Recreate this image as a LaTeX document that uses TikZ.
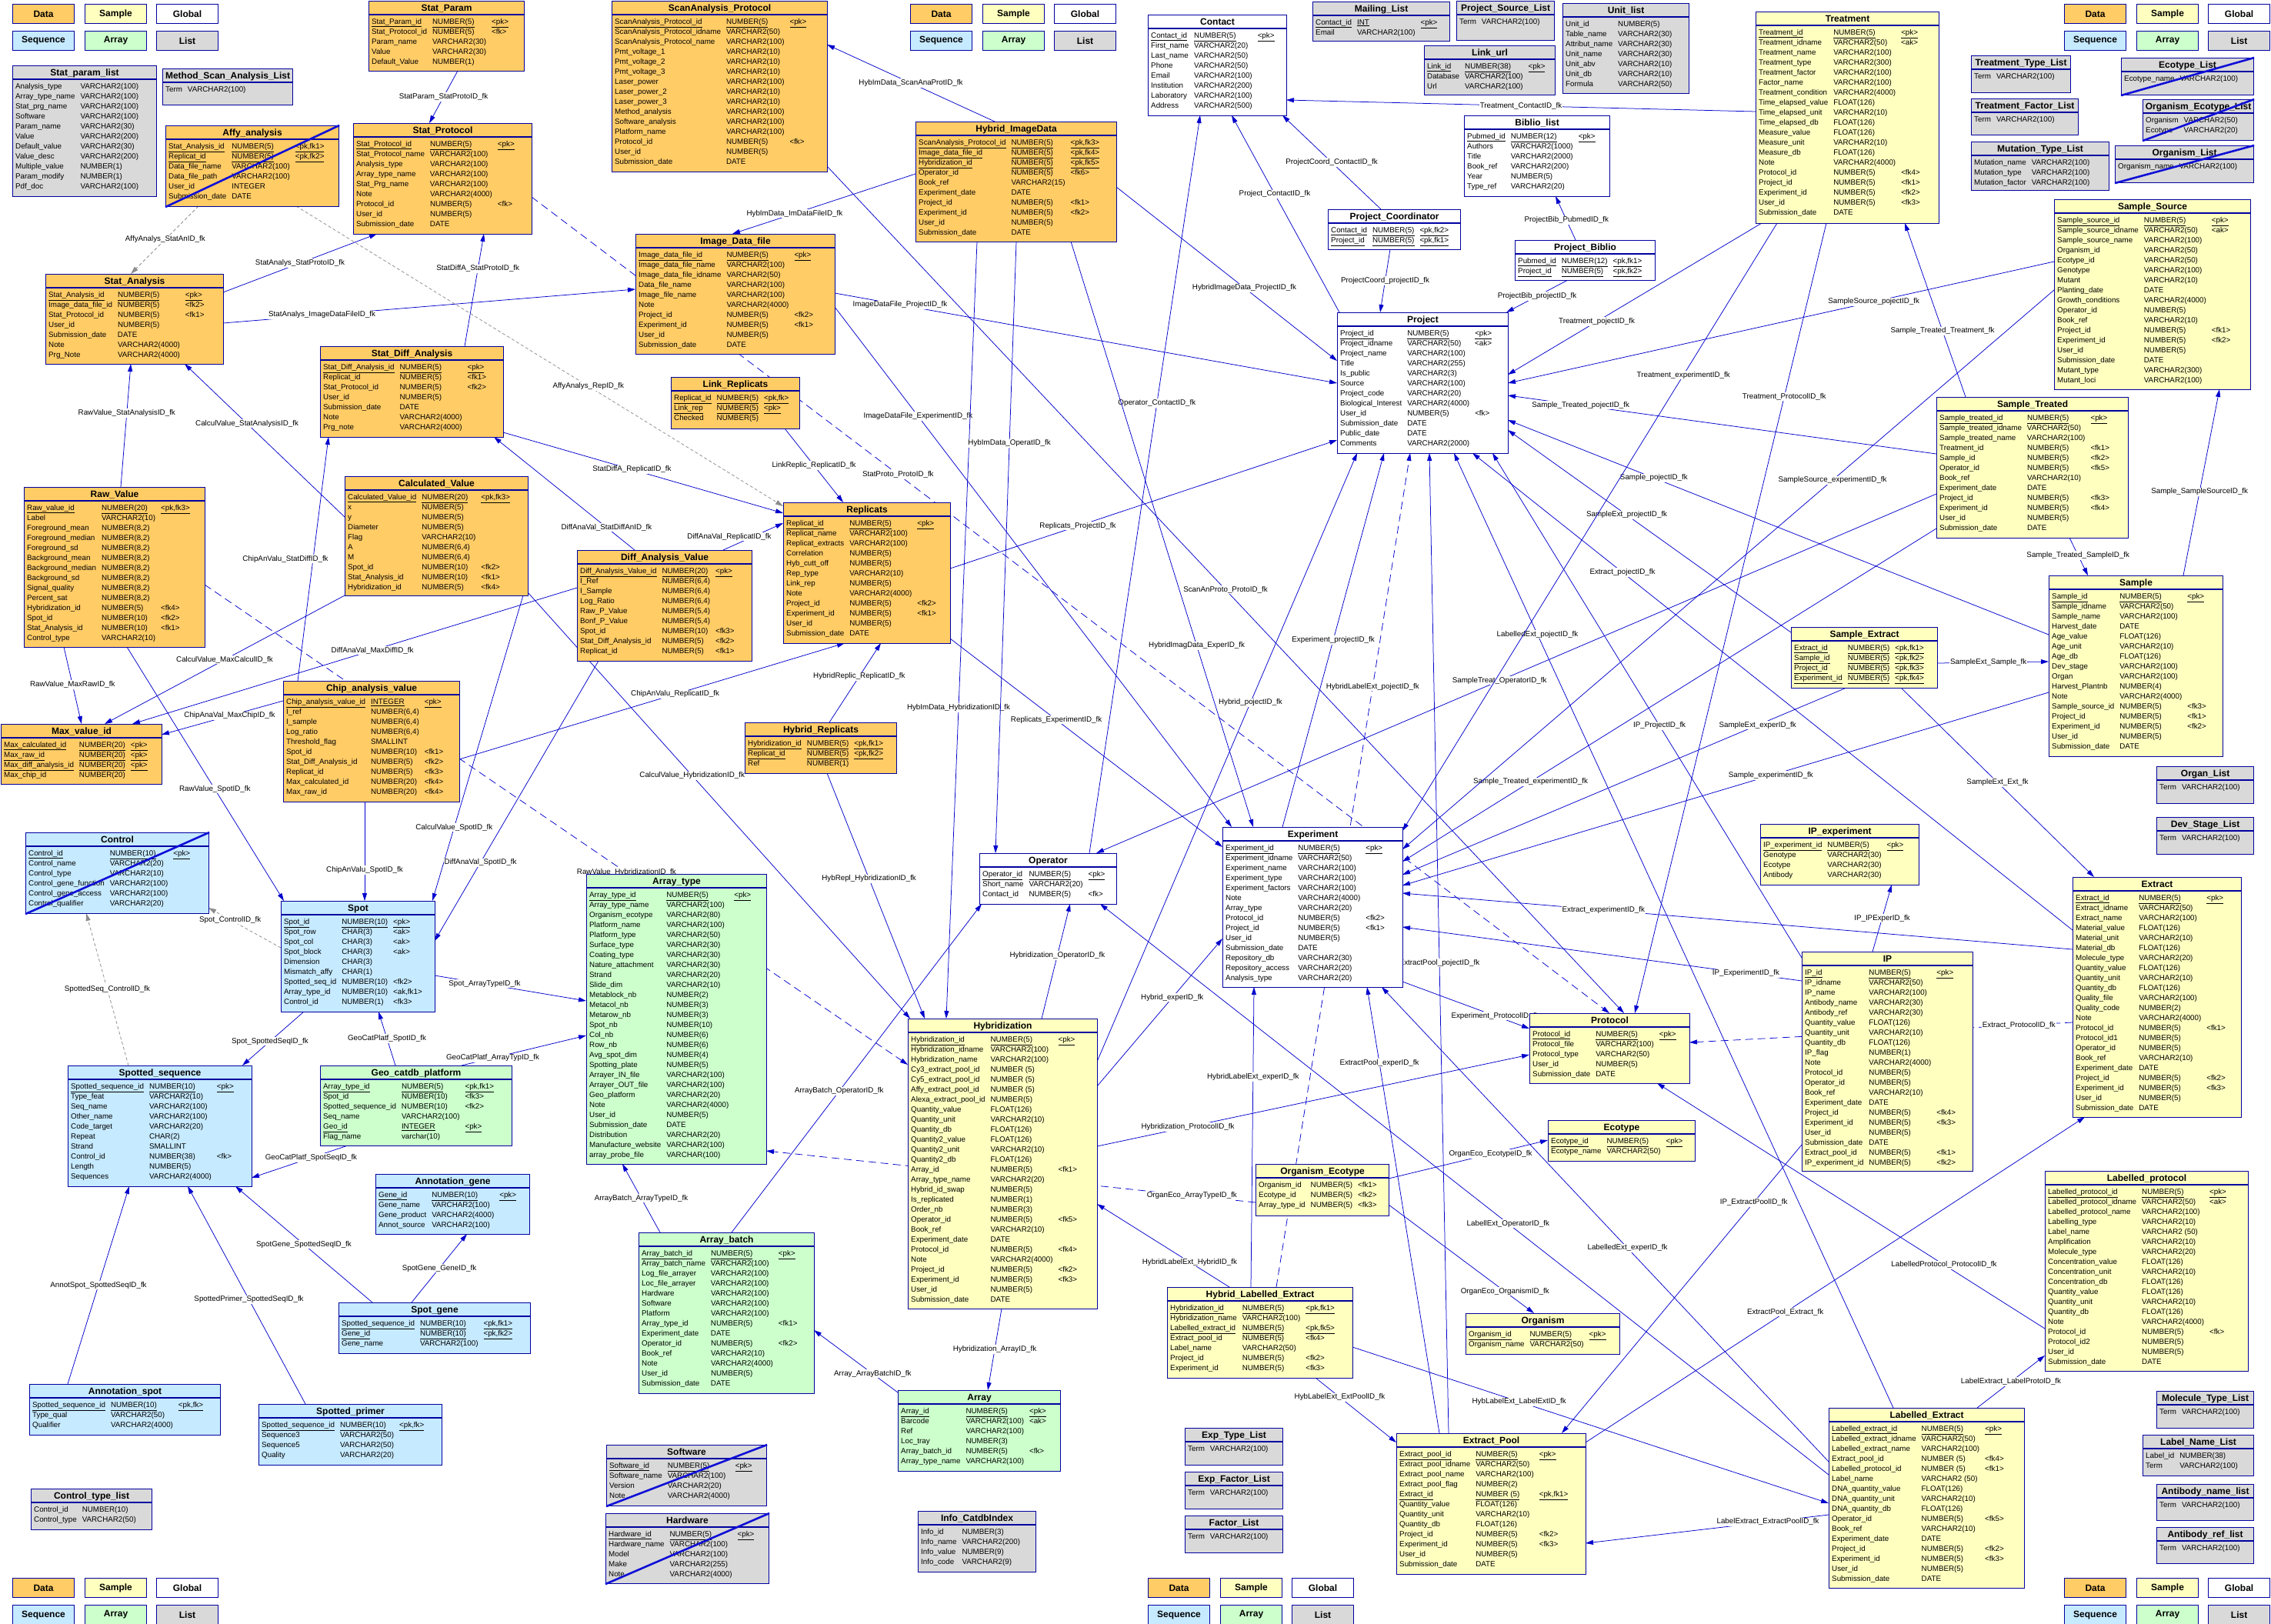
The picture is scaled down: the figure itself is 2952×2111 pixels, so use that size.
\documentclass[tikz,border=0pt]{standalone}
\usepackage{fontspec}
\setmainfont{Liberation Sans}
\usetikzlibrary{arrows.meta,backgrounds}
\pgfdeclarelayer{paper}
\pgfdeclarelayer{links}
\pgfsetlayers{paper,links,main}

\definecolor{datac}{RGB}{255,204,102}
\definecolor{samplec}{RGB}{255,255,192}
\definecolor{seqc}{RGB}{198,234,255}
\definecolor{arrayc}{RGB}{204,255,204}
\definecolor{listc}{RGB}{217,217,217}
\definecolor{bordc}{RGB}{0,0,160}
\definecolor{fkc}{RGB}{0,0,205}
\definecolor{crossc}{RGB}{15,15,215}

% one row of a primary key, all underlined
\newcommand\pk[3]{\underline{#1}&\underline{#2}&\underline{#3}\\}
% name, x, y, width, height, colour, title, rows
\newcommand\dbtable[8]{%
  \node[tblbox,fill=#6,minimum width=#4pt,minimum height=#5pt] (#1) at (#2,#3) {};
  \node[tbltitle] at ([yshift=-13.5pt]#1.north) {#7};
  \draw[tblborder] ([shift={(0,18)}]#1.north west) -- ([shift={(0,18)}]#1.north east);
  \node[tblrows] at ([shift={(4,21)}]#1.north west) {\begin{tabular}{@{}l@{\hspace{7pt}}l@{\hspace{7pt}}l@{}}#8\end{tabular}};
}
% [style], child, dx, dy, parent, dx, dy, pos, label
\newcommand\fkline[9][]{%
  \draw[fk,#1] ([shift={(#3,#4)}]#2.north west) -- node[fklabel,pos=#8]{#9} ([shift={(#6,#7)}]#5.north west);
}

\begin{document}
\catcode`\_=12
\begin{tikzpicture}[x=1pt,y=-1pt]
  \tikzstyle{tblbox}=[rectangle,draw=bordc,line width=1.1pt,anchor=north west,inner sep=0pt]
  \tikzstyle{tbltitle}=[anchor=base,inner sep=0pt,font=\fontsize{12}{14}\selectfont\bfseries]
  \tikzstyle{tblborder}=[draw=bordc,line width=1.1pt]
  \tikzstyle{tblrows}=[anchor=north west,inner sep=0pt,font=\fontsize{9.8}{13}\selectfont]
  \tikzstyle{legbox}=[rectangle,draw=bordc,line width=1.1pt,anchor=north west,minimum width=80pt,minimum height=25pt,inner sep=0pt,font=\fontsize{12}{14}\selectfont\bfseries]
  \tikzstyle{crossout}=[draw=crossc,line width=2.6pt]
  \tikzstyle{fk}=[draw=fkc,line width=0.75pt,-{Triangle[length=10pt,width=6pt]}]
  \tikzstyle{optional}=[dash pattern=on 10pt off 6pt]
  \tikzstyle{weak}=[draw=black!45,dash pattern=on 4pt off 3pt]
  \tikzstyle{fklabel}=[fill=white,inner sep=1pt,text=black,font=\fontsize{9.8}{11}\selectfont]

  \begin{pgfonlayer}{paper}
    \fill[white] (0,0) rectangle (2952,2111);
  \end{pgfonlayer}
  \useasboundingbox (0,0) rectangle (2952,2111);

  % legends
  \foreach \lx/\ly/\lg in {16/5/a,1183/5/b,2683/5/c,16/2051/d,1492/2051/e,2683/2051/f}{
    \node[legbox,fill=datac] (leg\lg1) at (\lx,\ly) {Data};
    \node[legbox,fill=samplec] (leg\lg2) at (\lx+94,\ly) {Sample};
    \node[legbox,fill=white] (leg\lg3) at (\lx+187,\ly) {Global};
    \node[legbox,fill=seqc] (leg\lg4) at (\lx,\ly+35) {Sequence};
    \node[legbox,fill=arrayc] (leg\lg5) at (\lx+94,\ly+35) {Array};
    \node[legbox,fill=listc] (leg\lg6) at (\lx+187,\ly+35) {List};
  }

  % ---------------- data tables
  \dbtable{statparamlist}{16}{85}{187}{170}{listc}{Stat_param_list}{%
    Analysis_type&VARCHAR2(100)&\\ Array_type_name&VARCHAR2(100)&\\ Stat_prg_name&VARCHAR2(100)&\\
    Software&VARCHAR2(100)&\\ Param_name&VARCHAR2(30)&\\ Value&VARCHAR2(200)&\\
    Default_value&VARCHAR2(30)&\\ Value_desc&VARCHAR2(200)&\\ Multiple_value&NUMBER(1)&\\
    Param_modify&NUMBER(1)&\\ Pdf_doc&VARCHAR2(100)&\\}
  \dbtable{methodscan}{211}{89}{169}{47}{listc}{Method_Scan_Analysis_List}{Term&VARCHAR2(100)&\\}
  \dbtable{statparam}{479}{1}{202}{91}{datac}{Stat_Param}{%
    \pk{Stat_Param_id}{NUMBER(5)}{<pk>}
    Stat_Protocol_id&NUMBER(5)&<fk>\\ Param_name&VARCHAR2(30)&\\ Value&VARCHAR2(30)&\\
    Default_Value&NUMBER(1)&\\}
  \dbtable{affy}{215}{163}{225}{105}{datac}{Affy_analysis}{%
    \pk{Stat_Analysis_id}{NUMBER(5)}{<pk,fk1>}
    \pk{Replicat_id}{NUMBER(5)}{<pk,fk2>}
    Data_file_name&VARCHAR2(100)&\\ Data_file_path&VARCHAR2(100)&\\ User_id&INTEGER&\\
    Submission_date&DATE&\\}
  \dbtable{statprotocol}{459}{160}{232}{144}{datac}{Stat_Protocol}{%
    \pk{Stat_Protocol_id}{NUMBER(5)}{<pk>}
    Stat_Protocol_name&VARCHAR2(100)&\\ Analysis_type&VARCHAR2(100)&\\ Array_type_name&VARCHAR2(100)&\\
    Stat_Prg_name&VARCHAR2(100)&\\ Note&VARCHAR2(4000)&\\ Protocol_id&NUMBER(5)&<fk>\\
    User_id&NUMBER(5)&\\ Submission_date&DATE&\\}
  \dbtable{statanalysis}{59}{356}{231}{117}{datac}{Stat_Analysis}{%
    \pk{Stat_Analysis_id}{NUMBER(5)}{<pk>}
    Image_data_file_id&NUMBER(5)&<fk2>\\ Stat_Protocol_id&NUMBER(5)&<fk1>\\ User_id&NUMBER(5)&\\
    Submission_date&DATE&\\ Note&VARCHAR2(4000)&\\ Prg_Note&VARCHAR2(4000)&\\}
  \dbtable{statdiff}{416}{450}{238}{118}{datac}{Stat_Diff_Analysis}{%
    \pk{Stat_Diff_Analysis_id}{NUMBER(5)}{<pk>}
    Replicat_id&NUMBER(5)&<fk1>\\ Stat_Protocol_id&NUMBER(5)&<fk2>\\ User_id&NUMBER(5)&\\
    Submission_date&DATE&\\ Note&VARCHAR2(4000)&\\ Prg_note&VARCHAR2(4000)&\\}
  \dbtable{calcvalue}{448}{619}{238}{155}{datac}{Calculated_Value}{%
    \pk{Calculated_Value_id}{NUMBER(20)}{<pk,fk3>}
    x&NUMBER(5)&\\ y&NUMBER(5)&\\ Diameter&NUMBER(5)&\\ Flag&VARCHAR2(10)&\\ A&NUMBER(6,4)&\\
    M&NUMBER(6,4)&\\ Spot_id&NUMBER(10)&<fk2>\\ Stat_Analysis_id&NUMBER(10)&<fk1>\\
    Hybridization_id&NUMBER(5)&<fk4>\\}
  \dbtable{rawvalue}{31}{633}{235}{208}{datac}{Raw_Value}{%
    \pk{Raw_value_id}{NUMBER(20)}{<pk,fk3>}
    Label&VARCHAR2(10)&\\ Foreground_mean&NUMBER(8,2)&\\ Foreground_median&NUMBER(8,2)&\\
    Foreground_sd&NUMBER(8,2)&\\ Background_mean&NUMBER(8,2)&\\ Background_median&NUMBER(8,2)&\\
    Background_sd&NUMBER(8,2)&\\ Signal_quality&NUMBER(8,2)&\\ Percent_sat&NUMBER(8,2)&\\
    Hybridization_id&NUMBER(5)&<fk4>\\ Spot_id&NUMBER(10)&<fk2>\\ Stat_Analysis_id&NUMBER(10)&<fk1>\\
    Control_type&VARCHAR2(10)&\\}
  \dbtable{scanprot}{795}{1}{280}{222}{datac}{ScanAnalysis_Protocol}{%
    \pk{ScanAnalysis_Protocol_id}{NUMBER(5)}{<pk>}
    ScanAnalysis_Protocol_idname&VARCHAR2(50)&\\ ScanAnalysis_Protocol_name&VARCHAR2(100)&\\
    Pmt_voltage_1&VARCHAR2(10)&\\ Pmt_voltage_2&VARCHAR2(10)&\\ Pmt_voltage_3&VARCHAR2(10)&\\
    Laser_power&VARCHAR2(100)&\\ Laser_power_2&VARCHAR2(10)&\\ Laser_power_3&VARCHAR2(10)&\\
    Method_analysis&VARCHAR2(100)&\\ Software_analysis&VARCHAR2(100)&\\ Platform_name&VARCHAR2(100)&\\
    Protocol_id&NUMBER(5)&<fk>\\ User_id&NUMBER(5)&\\ Submission_date&DATE&\\}
  \dbtable{hybimage}{1190}{158}{261}{156}{datac}{Hybrid_ImageData}{%
    \pk{ScanAnalysis_Protocol_id}{NUMBER(5)}{<pk,fk3>}
    \pk{Image_data_file_id}{NUMBER(5)}{<pk,fk4>}
    \pk{Hybridization_id}{NUMBER(5)}{<pk,fk5>}
    Operator_id&NUMBER(5)&<fk6>\\ Book_ref&VARCHAR2(15)&\\ Experiment_date&DATE&\\
    Project_id&NUMBER(5)&<fk1>\\ Experiment_id&NUMBER(5)&<fk2>\\ User_id&NUMBER(5)&\\
    Submission_date&DATE&\\}
  \dbtable{imagefile}{826}{304}{259}{156}{datac}{Image_Data_file}{%
    \pk{Image_data_file_id}{NUMBER(5)}{<pk>}
    Image_data_file_name&VARCHAR2(100)&\\ Image_data_file_idname&VARCHAR2(50)&\\
    Data_file_name&VARCHAR2(100)&\\ Image_file_name&VARCHAR2(100)&\\ Note&VARCHAR2(4000)&\\
    Project_id&NUMBER(5)&<fk2>\\ Experiment_id&NUMBER(5)&<fk1>\\ User_id&NUMBER(5)&\\
    Submission_date&DATE&\\}
  \dbtable{linkrep}{872}{490}{167}{67}{datac}{Link_Replicats}{%
    \pk{Replicat_id}{NUMBER(5)}{<pk,fk>}
    \pk{Link_rep}{NUMBER(5)}{<pk>}
    Checked&NUMBER(5)&\\}
  \dbtable{replicats}{1018}{653}{217}{183}{datac}{Replicats}{%
    \pk{Replicat_id}{NUMBER(5)}{<pk>}
    Replicat_name&VARCHAR2(100)&\\ Replicat_extracts&VARCHAR2(100)&\\ Correlation&NUMBER(5)&\\
    Hyb_cutt_off&NUMBER(5)&\\ Rep_type&VARCHAR2(10)&\\ Link_rep&NUMBER(5)&\\ Note&VARCHAR2(4000)&\\
    Project_id&NUMBER(5)&<fk2>\\ Experiment_id&NUMBER(5)&<fk1>\\ User_id&NUMBER(5)&\\
    Submission_date&DATE&\\}
  \dbtable{maxvalue}{1}{941}{209}{78}{datac}{Max_value_id}{%
    \pk{Max_calculated_id}{NUMBER(20)}{<pk>}
    \pk{Max_raw_id}{NUMBER(20)}{<pk>}
    \pk{Max_diff_analysis_id}{NUMBER(20)}{<pk>}
    Max_chip_id&NUMBER(20)&\\}
  \dbtable{chipvalue}{368}{885}{229}{157}{datac}{Chip_analysis_value}{%
    \pk{Chip_analysis_value_id}{INTEGER}{<pk>}
    I_ref&NUMBER(6,4)&\\ I_sample&NUMBER(6,4)&\\ Log_ratio&NUMBER(6,4)&\\ Threshold_flag&SMALLINT&\\
    Spot_id&NUMBER(10)&<fk1>\\ Stat_Diff_Analysis_id&NUMBER(5)&<fk2>\\ Replicat_id&NUMBER(5)&<fk3>\\
    Max_calculated_id&NUMBER(20)&<fk4>\\ Max_raw_id&NUMBER(20)&<fk4>\\}
  \dbtable{diffvalue}{750}{715}{227}{144}{datac}{Diff_Analysis_Value}{%
    \pk{Diff_Analysis_Value_id}{NUMBER(20)}{<pk>}
    I_Ref&NUMBER(6,4)&\\ I_Sample&NUMBER(6,4)&\\ Log_Ratio&NUMBER(6,4)&\\ Raw_P_Value&NUMBER(5,4)&\\
    Bonf_P_Value&NUMBER(5,4)&\\ Spot_id&NUMBER(10)&<fk3>\\ Stat_Diff_Analysis_id&NUMBER(5)&<fk2>\\
    Replicat_id&NUMBER(5)&<fk1>\\}
  \dbtable{hybrep}{968}{939}{197}{66}{datac}{Hybrid_Replicats}{%
    \pk{Hybridization_id}{NUMBER(5)}{<pk,fk1>}
    \pk{Replicat_id}{NUMBER(5)}{<pk,fk2>}
    Ref&NUMBER(1)&\\}

  % ---------------- global tables
  \dbtable{contact}{1492}{19}{180}{131}{white}{Contact}{%
    \pk{Contact_id}{NUMBER(5)}{<pk>}
    First_name&VARCHAR2(20)&\\ Last_name&VARCHAR2(50)&\\ Phone&VARCHAR2(50)&\\ Email&VARCHAR2(100)&\\
    Institution&VARCHAR2(200)&\\ Laboratory&VARCHAR2(100)&\\ Address&VARCHAR2(500)&\\}
  \dbtable{mailing}{1706}{2}{178}{51}{listc}{Mailing_List}{%
    \pk{Contact_id}{INT}{<pk>}
    Email&VARCHAR2(100)&\\}
  \dbtable{projsource}{1893}{1}{127}{51}{listc}{Project_Source_List}{Term&VARCHAR2(100)&\\}
  \dbtable{unitlist}{2031}{4}{164}{117}{listc}{Unit_list}{%
    Unit_id&NUMBER(5)&\\ Table_name&VARCHAR2(30)&\\ Attribut_name&VARCHAR2(30)&\\ Unit_name&VARCHAR2(30)&\\
    Unit_abv&VARCHAR2(10)&\\ Unit_db&VARCHAR2(10)&\\ Formula&VARCHAR2(50)&\\}
  \dbtable{linkurl}{1851}{59}{170}{64}{listc}{Link_url}{%
    \pk{Link_id}{NUMBER(38)}{<pk>}
    Database&VARCHAR2(100)&\\ Url&VARCHAR2(100)&\\}
  \dbtable{biblio}{1903}{150}{189}{105}{white}{Biblio_list}{%
    \pk{Pubmed_id}{NUMBER(12)}{<pk>}
    Authors&VARCHAR2(1000)&\\ Title&VARCHAR2(2000)&\\ Book_ref&VARCHAR2(200)&\\ Year&NUMBER(5)&\\
    Type_ref&VARCHAR2(20)&\\}
  \dbtable{projcoord}{1726}{272}{172}{52}{white}{Project_Coordinator}{%
    \pk{Contact_id}{NUMBER(5)}{<pk,fk2>}
    \pk{Project_id}{NUMBER(5)}{<pk,fk1>}}
  \dbtable{projbiblio}{1969}{312}{182}{52}{white}{Project_Biblio}{%
    \pk{Pubmed_id}{NUMBER(12)}{<pk,fk1>}
    \pk{Project_id}{NUMBER(5)}{<pk,fk2>}}
  \dbtable{project}{1738}{406}{222}{183}{white}{Project}{%
    \pk{Project_id}{NUMBER(5)}{<pk>}
    Project_idname&VARCHAR2(50)&<ak>\\ Project_name&VARCHAR2(100)&\\ Title&VARCHAR2(255)&\\
    Is_public&VARCHAR2(3)&\\ Source&VARCHAR2(100)&\\ Project_code&VARCHAR2(20)&\\
    Biological_Interest&VARCHAR2(4000)&\\ User_id&NUMBER(5)&<fk>\\ Submission_date&DATE&\\
    Public_date&DATE&\\ Comments&VARCHAR2(2000)&\\}
  \dbtable{operator}{1273}{1109}{178}{66}{white}{Operator}{%
    \pk{Operator_id}{NUMBER(5)}{<pk>}
    Short_name&VARCHAR2(20)&\\ Contact_id&NUMBER(5)&<fk>\\}
  \dbtable{experiment}{1589}{1075}{234}{208}{white}{Experiment}{%
    \pk{Experiment_id}{NUMBER(5)}{<pk>}
    Experiment_idname&VARCHAR2(50)&\\ Experiment_name&VARCHAR2(100)&\\ Experiment_type&VARCHAR2(100)&\\
    Experiment_factors&VARCHAR2(100)&\\ Note&VARCHAR2(4000)&\\ Array_type&VARCHAR2(20)&\\
    Protocol_id&NUMBER(5)&<fk2>\\ Project_id&NUMBER(5)&<fk1>\\ User_id&NUMBER(5)&\\
    Submission_date&DATE&\\ Repository_db&VARCHAR2(30)&\\ Repository_access&VARCHAR2(20)&\\
    Analysis_type&VARCHAR2(20)&\\}

  % ---------------- sample tables
  \dbtable{treatment}{2282}{15}{238}{275}{samplec}{Treatment}{%
    \pk{Treatment_id}{NUMBER(5)}{<pk>}
    Treatment_idname&VARCHAR2(50)&<ak>\\ Treatment_name&VARCHAR2(100)&\\ Treatment_type&VARCHAR2(300)&\\
    Treatment_factor&VARCHAR2(100)&\\ Factor_name&VARCHAR2(100)&\\ Treatment_condition&VARCHAR2(4000)&\\
    Time_elapsed_value&FLOAT(126)&\\ Time_elapsed_unit&VARCHAR2(10)&\\ Time_elapsed_db&FLOAT(126)&\\
    Measure_value&FLOAT(126)&\\ Measure_unit&VARCHAR2(10)&\\ Measure_db&FLOAT(126)&\\
    Note&VARCHAR2(4000)&\\ Protocol_id&NUMBER(5)&<fk4>\\ Project_id&NUMBER(5)&<fk1>\\
    Experiment_id&NUMBER(5)&<fk2>\\ User_id&NUMBER(5)&<fk3>\\ Submission_date&DATE&\\}
  \dbtable{treattype}{2562}{72}{129}{48}{listc}{Treatment_Type_List}{Term&VARCHAR2(100)&\\}
  \dbtable{treatfactor}{2562}{128}{139}{47}{listc}{Treatment_Factor_List}{Term&VARCHAR2(100)&\\}
  \dbtable{mutation}{2562}{184}{179}{63}{listc}{Mutation_Type_List}{%
    Mutation_name&VARCHAR2(100)&\\ Mutation_type&VARCHAR2(100)&\\ Mutation_factor&VARCHAR2(100)&\\}
  \dbtable{ecotypelist}{2757}{75}{172}{48}{listc}{Ecotype_List}{Ecotype_name&VARCHAR2(100)&\\}
  \dbtable{orgecolist}{2785}{129}{144}{53}{listc}{Organism_Ecotype_List}{%
    Organism&VARCHAR2(50)&\\ Ecotype&VARCHAR2(20)&\\}
  \dbtable{organismlist}{2749}{189}{180}{48}{listc}{Organism_List}{Organism_name&VARCHAR2(100)&\\}
  \dbtable{samplesource}{2670}{259}{255}{247}{samplec}{Sample_Source}{%
    \pk{Sample_source_id}{NUMBER(5)}{<pk>}
    Sample_source_idname&VARCHAR2(50)&<ak>\\ Sample_source_name&VARCHAR2(100)&\\
    Organism_id&VARCHAR2(50)&\\ Ecotype_id&VARCHAR2(50)&\\ Genotype&VARCHAR2(100)&\\
    Mutant&VARCHAR2(10)&\\ Planting_date&DATE&\\ Growth_conditions&VARCHAR2(4000)&\\
    Operator_id&NUMBER(5)&\\ Book_ref&VARCHAR2(10)&\\ Project_id&NUMBER(5)&<fk1>\\
    Experiment_id&NUMBER(5)&<fk2>\\ User_id&NUMBER(5)&\\ Submission_date&DATE&\\
    Mutant_type&VARCHAR2(300)&\\ Mutant_loci&VARCHAR2(100)&\\}
  \dbtable{sampletreated}{2517}{516}{249}{183}{samplec}{Sample_Treated}{%
    \pk{Sample_treated_id}{NUMBER(5)}{<pk>}
    Sample_treated_idname&VARCHAR2(50)&\\ Sample_treated_name&VARCHAR2(100)&\\
    Treatment_id&NUMBER(5)&<fk1>\\ Sample_id&NUMBER(5)&<fk2>\\ Operator_id&NUMBER(5)&<fk5>\\
    Book_ref&VARCHAR2(10)&\\ Experiment_date&DATE&\\ Project_id&NUMBER(5)&<fk3>\\
    Experiment_id&NUMBER(5)&<fk4>\\ User_id&NUMBER(5)&\\ Submission_date&DATE&\\}
  \dbtable{sample}{2663}{748}{226}{235}{samplec}{Sample}{%
    \pk{Sample_id}{NUMBER(5)}{<pk>}
    Sample_idname&VARCHAR2(50)&\\ Sample_name&VARCHAR2(100)&\\ Harvest_date&DATE&\\
    Age_value&FLOAT(126)&\\ Age_unit&VARCHAR2(10)&\\ Age_db&FLOAT(126)&\\ Dev_stage&VARCHAR2(100)&\\
    Organ&VARCHAR2(100)&\\ Harvest_Plantnb&NUMBER(4)&\\ Note&VARCHAR2(4000)&\\
    Sample_source_id&NUMBER(5)&<fk3>\\ Project_id&NUMBER(5)&<fk1>\\ Experiment_id&NUMBER(5)&<fk2>\\
    User_id&NUMBER(5)&\\ Submission_date&DATE&\\}
  \dbtable{sampleextract}{2328}{815}{190}{79}{samplec}{Sample_Extract}{%
    \pk{Extract_id}{NUMBER(5)}{<pk,fk1>}
    \pk{Sample_id}{NUMBER(5)}{<pk,fk2>}
    \pk{Project_id}{NUMBER(5)}{<pk,fk3>}
    \pk{Experiment_id}{NUMBER(5)}{<pk,fk4>}}
  \dbtable{organlist}{2803}{996}{126}{48}{listc}{Organ_List}{Term&VARCHAR2(100)&\\}
  \dbtable{devstage}{2803}{1062}{126}{48}{listc}{Dev_Stage_List}{Term&VARCHAR2(100)&\\}
  \dbtable{ipexp}{2288}{1071}{206}{79}{samplec}{IP_experiment}{%
    \pk{IP_experiment_id}{NUMBER(5)}{<pk>}
    Genotype&VARCHAR2(30)&\\ Ecotype&VARCHAR2(30)&\\ Antibody&VARCHAR2(30)&\\}
  \dbtable{extract}{2694}{1140}{219}{312}{samplec}{Extract}{%
    \pk{Extract_id}{NUMBER(5)}{<pk>}
    Extract_idname&VARCHAR2(50)&\\ Extract_name&VARCHAR2(100)&\\ Material_value&FLOAT(126)&\\
    Material_unit&VARCHAR2(10)&\\ Material_db&FLOAT(126)&\\ Molecule_type&VARCHAR2(20)&\\
    Quantity_value&FLOAT(126)&\\ Quantity_unit&VARCHAR2(10)&\\ Quantity_db&FLOAT(126)&\\
    Quality_file&VARCHAR2(100)&\\ Quality_code&NUMBER(2)&\\ Note&VARCHAR2(4000)&\\
    Protocol_id&NUMBER(5)&<fk1>\\ Protocol_id1&NUMBER(5)&\\ Operator_id&NUMBER(5)&\\
    Book_ref&VARCHAR2(10)&\\ Experiment_date&DATE&\\ Project_id&NUMBER(5)&<fk2>\\
    Experiment_id&NUMBER(5)&<fk3>\\ User_id&NUMBER(5)&\\ Submission_date&DATE&\\}
  \dbtable{ip}{2342}{1237}{222}{285}{samplec}{IP}{%
    \pk{IP_id}{NUMBER(5)}{<pk>}
    IP_idname&VARCHAR2(50)&\\ IP_name&VARCHAR2(100)&\\ Antibody_name&VARCHAR2(30)&\\
    Antibody_ref&VARCHAR2(30)&\\ Quantity_value&FLOAT(126)&\\ Quantity_unit&VARCHAR2(10)&\\
    Quantity_db&FLOAT(126)&\\ IP_flag&NUMBER(1)&\\ Note&VARCHAR2(4000)&\\ Protocol_id&NUMBER(5)&\\
    Operator_id&NUMBER(5)&\\ Book_ref&VARCHAR2(10)&\\ Experiment_date&DATE&\\
    Project_id&NUMBER(5)&<fk4>\\ Experiment_id&NUMBER(5)&<fk3>\\ User_id&NUMBER(5)&\\
    Submission_date&DATE&\\ Extract_pool_id&NUMBER(5)&<fk1>\\ IP_experiment_id&NUMBER(5)&<fk2>\\}
  \dbtable{protocol}{1988}{1317}{208}{91}{samplec}{Protocol}{%
    \pk{Protocol_id}{NUMBER(5)}{<pk>}
    Protocol_file&VARCHAR2(100)&\\ Protocol_type&VARCHAR2(50)&\\ User_id&NUMBER(5)&\\
    Submission_date&DATE&\\}
  \dbtable{hybridization}{1180}{1324}{246}{377}{samplec}{Hybridization}{%
    \pk{Hybridization_id}{NUMBER(5)}{<pk>}
    Hybridization_idname&VARCHAR2(100)&\\ Hybridization_name&VARCHAR2(100)&\\
    Cy3_extract_pool_id&NUMBER (5)&\\ Cy5_extract_pool_id&NUMBER (5)&\\ Affy_extract_pool_id&NUMBER (5)&\\
    Alexa_extract_pool_id&NUMBER(5)&\\ Quantity_value&FLOAT(126)&\\ Quantity_unit&VARCHAR2(10)&\\
    Quantity_db&FLOAT(126)&\\ Quantity2_value&FLOAT(126)&\\ Quantity2_unit&VARCHAR2(10)&\\
    Quantity2_db&FLOAT(126)&\\ Array_id&NUMBER(5)&<fk1>\\ Array_type_name&VARCHAR2(20)&\\
    Hybrid_id_swap&NUMBER(5)&\\ Is_replicated&NUMBER(1)&\\ Order_nb&NUMBER(3)&\\
    Operator_id&NUMBER(5)&<fk5>\\ Book_ref&VARCHAR2(10)&\\ Experiment_date&DATE&\\
    Protocol_id&NUMBER(5)&<fk4>\\ Note&VARCHAR2(4000)&\\ Project_id&NUMBER(5)&<fk2>\\
    Experiment_id&NUMBER(5)&<fk3>\\ User_id&NUMBER(5)&\\ Submission_date&DATE&\\}
  \dbtable{ecotype}{2012}{1456}{191}{53}{samplec}{Ecotype}{%
    \pk{Ecotype_id}{NUMBER(5)}{<pk>}
    Ecotype_name&VARCHAR2(50)&\\}
  \dbtable{orgeco}{1632}{1513}{173}{67}{samplec}{Organism_Ecotype}{%
    Organism_id&NUMBER(5)&<fk1>\\ Ecotype_id&NUMBER(5)&<fk2>\\ Array_type_id&NUMBER(5)&<fk3>\\}
  \dbtable{hyblabel}{1517}{1673}{241}{118}{samplec}{Hybrid_Labelled_Extract}{%
    \pk{Hybridization_id}{NUMBER(5)}{<pk,fk1>}
    Hybridization_name&VARCHAR2(100)&\\
    \pk{Labelled_extract_id}{NUMBER(5)}{<pk,fk5>}
    Extract_pool_id&NUMBER(5)&<fk4>\\ Label_name&VARCHAR2(50)&\\ Project_id&NUMBER(5)&<fk2>\\
    Experiment_id&NUMBER(5)&<fk3>\\}
  \dbtable{organism}{1905}{1707}{200}{53}{samplec}{Organism}{%
    \pk{Organism_id}{NUMBER(5)}{<pk>}
    Organism_name&VARCHAR2(50)&\\}
  \dbtable{extractpool}{1815}{1863}{246}{183}{samplec}{Extract_Pool}{%
    \pk{Extract_pool_id}{NUMBER(5)}{<pk>}
    Extract_pool_idname&VARCHAR2(50)&\\ Extract_pool_name&VARCHAR2(100)&\\ Extract_pool_flag&NUMBER(2)&\\
    \pk{Extract_id}{NUMBER (5)}{<pk,fk1>}
    Quantity_value&FLOAT(126)&\\ Quantity_unit&VARCHAR2(10)&\\ Quantity_db&FLOAT(126)&\\
    Project_id&NUMBER(5)&<fk2>\\ Experiment_id&NUMBER(5)&<fk3>\\ User_id&NUMBER(5)&\\
    Submission_date&DATE&\\}
  \dbtable{exptype}{1540}{1856}{127}{48}{listc}{Exp_Type_List}{Term&VARCHAR2(100)&\\}
  \dbtable{expfactor}{1540}{1913}{127}{48}{listc}{Exp_Factor_List}{Term&VARCHAR2(100)&\\}
  \dbtable{factorlist}{1540}{1970}{127}{48}{listc}{Factor_List}{Term&VARCHAR2(100)&\\}
  \dbtable{labelprot}{2658}{1522}{264}{260}{samplec}{Labelled_protocol}{%
    \pk{Labelled_protocol_id}{NUMBER(5)}{<pk>}
    Labelled_protocol_idname&VARCHAR2(50)&<ak>\\ Labelled_protocol_name&VARCHAR2(100)&\\
    Labelling_type&VARCHAR2(10)&\\ Label_name&VARCHAR2 (50)&\\ Amplification&VARCHAR2(10)&\\
    Molecule_type&VARCHAR2(20)&\\ Concentration_value&FLOAT(126)&\\ Concentration_unit&VARCHAR2(10)&\\
    Concentration_db&FLOAT(126)&\\ Quantity_value&FLOAT(126)&\\ Quantity_unit&VARCHAR2(10)&\\
    Quantity_db&FLOAT(126)&\\ Note&VARCHAR2(4000)&\\ Protocol_id&NUMBER(5)&<fk>\\
    Protocol_id2&NUMBER(5)&\\ User_id&NUMBER(5)&\\ Submission_date&DATE&\\}
  \dbtable{labelext}{2377}{1830}{254}{234}{samplec}{Labelled_Extract}{%
    \pk{Labelled_extract_id}{NUMBER(5)}{<pk>}
    Labelled_extract_idname&VARCHAR2(50)&\\ Labelled_extract_name&VARCHAR2(100)&\\
    Extract_pool_id&NUMBER (5)&<fk4>\\ Labelled_protocol_id&NUMBER (5)&<fk1>\\ Label_name&VARCHAR2 (50)&\\
    DNA_quantity_value&FLOAT(126)&\\ DNA_quantity_unit&VARCHAR2(10)&\\ DNA_quantity_db&FLOAT(126)&\\
    Operator_id&NUMBER(5)&<fk5>\\ Book_ref&VARCHAR2(10)&\\ Experiment_date&DATE&\\
    Project_id&NUMBER(5)&<fk2>\\ Experiment_id&NUMBER(5)&<fk3>\\ User_id&NUMBER(5)&\\
    Submission_date&DATE&\\}
  \dbtable{moltype}{2803}{1808}{126}{48}{listc}{Molecule_Type_List}{Term&VARCHAR2(100)&\\}
  \dbtable{labelname}{2785}{1865}{144}{53}{listc}{Label_Name_List}{%
    Label_id&NUMBER(38)&\\ Term&VARCHAR2(100)&\\}
  \dbtable{antibodyname}{2803}{1929}{126}{47}{listc}{Antibody_name_list}{Term&VARCHAR2(100)&\\}
  \dbtable{antibodyref}{2803}{1985}{126}{47}{listc}{Antibody_ref_list}{Term&VARCHAR2(100)&\\}

  % ---------------- sequence tables
  \dbtable{control}{33}{1082}{238}{105}{seqc}{Control}{%
    \pk{Control_id}{NUMBER(10)}{<pk>}
    Control_name&VARCHAR2(20)&\\ Control_type&VARCHAR2(10)&\\ Control_gene_function&VARCHAR2(100)&\\
    Control_gene_access&VARCHAR2(100)&\\ Control_qualifier&VARCHAR2(20)&\\}
  \dbtable{spot}{365}{1171}{200}{144}{seqc}{Spot}{%
    \pk{Spot_id}{NUMBER(10)}{<pk>}
    Spot_row&CHAR(3)&<ak>\\ Spot_col&CHAR(3)&<ak>\\ Spot_block&CHAR(3)&<ak>\\ Dimension&CHAR(3)&\\
    Mismatch_affy&CHAR(1)&\\ Spotted_seq_id&NUMBER(10)&<fk2>\\ Array_type_id&NUMBER(10)&<ak,fk1>\\
    Control_id&NUMBER(1)&<fk3>\\}
  \dbtable{spottedseq}{88}{1385}{239}{157}{seqc}{Spotted_sequence}{%
    \pk{Spotted_sequence_id}{NUMBER(10)}{<pk>}
    Type_feat&VARCHAR2(10)&\\ Seq_name&VARCHAR2(100)&\\ Other_name&VARCHAR2(100)&\\
    Code_target&VARCHAR2(20)&\\ Repeat&CHAR(2)&\\ Strand&SMALLINT&\\ Control_id&NUMBER(38)&<fk>\\
    Length&NUMBER(5)&\\ Sequences&VARCHAR2(4000)&\\}
  \dbtable{annotgene}{488}{1526}{200}{78}{seqc}{Annotation_gene}{%
    \pk{Gene_id}{NUMBER(10)}{<pk>}
    Gene_name&VARCHAR2(100)&\\ Gene_product&VARCHAR2(4000)&\\ Annot_source&VARCHAR2(100)&\\}
  \dbtable{spotgene}{440}{1693}{249}{66}{seqc}{Spot_gene}{%
    \pk{Spotted_sequence_id}{NUMBER(10)}{<pk,fk1>}
    \pk{Gene_id}{NUMBER(10)}{<pk,fk2>}
    Gene_name&VARCHAR2(100)&\\}
  \dbtable{annotspot}{38}{1799}{248}{66}{seqc}{Annotation_spot}{%
    \pk{Spotted_sequence_id}{NUMBER(10)}{<pk,fk>}
    Type_qual&VARCHAR2(50)&\\ Qualifier&VARCHAR2(4000)&\\}
  \dbtable{spottedprimer}{336}{1825}{238}{79}{seqc}{Spotted_primer}{%
    \pk{Spotted_sequence_id}{NUMBER(10)}{<pk,fk>}
    Sequence3&VARCHAR2(50)&\\ Sequence5&VARCHAR2(50)&\\ Quality&VARCHAR2(20)&\\}
  \dbtable{controltype}{40}{1935}{157}{53}{listc}{Control_type_list}{%
    Control_id&NUMBER(10)&\\ Control_type&VARCHAR2(50)&\\}

  % ---------------- array tables
  \dbtable{geoplatform}{416}{1385}{249}{104}{arrayc}{Geo_catdb_platform}{%
    \pk{Array_type_id}{NUMBER(5)}{<pk,fk1>}
    Spot_id&NUMBER(10)&<fk3>\\ Spotted_sequence_id&NUMBER(10)&<fk2>\\ Seq_name&VARCHAR2(100)&\\
    \pk{Geo_id}{INTEGER}{<pk>}
    Flag_name&varchar(10)&\\}
  \dbtable{arraytype}{762}{1136}{234}{377}{arrayc}{Array_type}{%
    \pk{Array_type_id}{NUMBER(5)}{<pk>}
    Array_type_name&VARCHAR2(100)&\\ Organism_ecotype&VARCHAR2(80)&\\ Platform_name&VARCHAR2(100)&\\
    Platform_type&VARCHAR2(50)&\\ Surface_type&VARCHAR2(30)&\\ Coating_type&VARCHAR2(30)&\\
    Nature_attachment&VARCHAR2(30)&\\ Strand&VARCHAR2(20)&\\ Slide_dim&VARCHAR2(10)&\\
    Metablock_nb&NUMBER(2)&\\ Metacol_nb&NUMBER(3)&\\ Metarow_nb&NUMBER(3)&\\ Spot_nb&NUMBER(10)&\\
    Col_nb&NUMBER(6)&\\ Row_nb&NUMBER(6)&\\ Avg_spot_dim&NUMBER(4)&\\ Spotting_plate&NUMBER(5)&\\
    Arrayer_IN_file&VARCHAR2(100)&\\ Arrayer_OUT_file&VARCHAR2(100)&\\ Geo_platform&VARCHAR2(20)&\\
    Note&VARCHAR2(4000)&\\ User_id&NUMBER(5)&\\ Submission_date&DATE&\\ Distribution&VARCHAR2(20)&\\
    Manufacture_website&VARCHAR2(100)&\\ array_probe_file&VARCHAR(100)&\\}
  \dbtable{arraybatch}{830}{1602}{228}{209}{arrayc}{Array_batch}{%
    \pk{Array_batch_id}{NUMBER(5)}{<pk>}
    Array_batch_name&VARCHAR2(100)&\\ Log_file_arrayer&VARCHAR2(100)&\\ Loc_file_arrayer&VARCHAR2(100)&\\
    Hardware&VARCHAR2(100)&\\ Software&VARCHAR2(100)&\\ Platform&VARCHAR2(100)&\\
    Array_type_id&NUMBER(5)&<fk1>\\ Experiment_date&DATE&\\ Operator_id&NUMBER(5)&<fk2>\\
    Book_ref&VARCHAR2(10)&\\ Note&VARCHAR2(4000)&\\ User_id&NUMBER(5)&\\ Submission_date&DATE&\\}
  \dbtable{array}{1167}{1807}{211}{105}{arrayc}{Array}{%
    \pk{Array_id}{NUMBER(5)}{<pk>}
    Barcode&VARCHAR2(100)&<ak>\\ Ref&VARCHAR2(100)&\\ Loc_tray&NUMBER(3)&\\
    Array_batch_id&NUMBER(5)&<fk>\\ Array_type_name&VARCHAR2(100)&\\}
  \dbtable{software}{788}{1878}{208}{79}{listc}{Software}{%
    \pk{Software_id}{NUMBER(5)}{<pk>}
    Software_name&VARCHAR2(100)&\\ Version&VARCHAR2(20)&\\ Note&VARCHAR2(4000)&\\}
  \dbtable{hardware}{787}{1967}{212}{91}{listc}{Hardware}{%
    \pk{Hardware_id}{NUMBER(5)}{<pk>}
    Hardware_name&VARCHAR2(100)&\\ Model&VARCHAR2(100)&\\ Make&VARCHAR2(255)&\\ Note&VARCHAR2(4000)&\\}
  \dbtable{infoindex}{1193}{1964}{153}{79}{listc}{Info_CatdbIndex}{%
    Info_id&NUMBER(3)&\\ Info_name&VARCHAR2(200)&\\ Info_value&NUMBER(9)&\\ Info_code&VARCHAR2(9)&\\}

  % tables no longer in use
  \foreach \t in {affy,ecotypelist,orgecolist,organismlist,control,software,hardware}
    \draw[crossout] (\t.south west) -- (\t.north east);

  % ---------------- foreign keys
  \begin{pgfonlayer}{links}
  \fkline{statparam}{116}{91}{statprotocol}{99}{0}{.5}{StatParam_StatProtoID_fk}
  \fkline[weak]{affy}{43}{105}{statanalysis}{111}{0}{.49}{AffyAnalys_StatAnID_fk}
  \fkline{statanalysis}{231}{24}{statprotocol}{31}{144}{.5}{StatAnalys_StatProtoID_fk}
  \fkline{statanalysis}{231}{64}{imagefile}{0}{72}{.24}{StatAnalys_ImageDataFileID_fk}
  \fkline{statdiff}{188}{0}{statprotocol}{170}{144}{.69}{StatDiffA_StatProtoID_fk}
  \fkline[weak]{affy}{170}{105}{replicats}{0}{5}{.6}{AffyAnalys_RepID_fk}
  \fkline{rawvalue}{126}{0}{statanalysis}{111}{117}{.6}{RawValue_StatAnalysisID_fk}
  \fkline{calcvalue}{0}{53}{statanalysis}{181}{117}{.61}{CalculValue_StatAnalysisID_fk}
  \fkline{statdiff}{238}{112}{replicats}{0}{14}{.46}{StatDiffA_ReplicatID_fk}
  \fkline{diffvalue}{75}{0}{statdiff}{226}{118}{.2}{DiffAnaVal_StatDiffAnID_fk}
  \fkline{diffvalue}{190}{0}{replicats}{0}{27}{.5,xshift=-31pt}{DiffAnaVal_ReplicatID_fk}
  \fkline{chipvalue}{19}{0}{statdiff}{11}{118}{.5,xshift=-36pt}{ChipAnValu_StatDiffID_fk}
  \fkline{hybimage}{103}{0}{scanprot}{280}{57}{.5}{HybImData_ScanAnaProtID_fk}
  \fkline{hybimage}{0}{68}{imagefile}{126}{0}{.66}{HybImData_ImDataFileID_fk}
  \fkline{imagefile}{259}{77}{project}{0}{92}{.13}{ImageDataFile_ProjectID_fk}
  \fkline{imagefile}{259}{95}{experiment}{12}{0}{.21}{ImageDataFile_ExperimentID_fk}
  \fkline{linkrep}{148}{67}{replicats}{78}{0}{.5}{LinkReplic_ReplicatID_fk}
  \fkline[optional]{statprotocol}{232}{96}{protocol}{104}{0}{.34}{StatProto_ProtoID_fk}
  \fkline{replicats}{217}{86}{project}{0}{166}{.33}{Replicats_ProjectID_fk}
  \fkline{replicats}{217}{177}{experiment}{0}{26}{.39}{Replicats_ExperimentID_fk}
  \fkline{hybrep}{110}{0}{replicats}{127}{183}{.58}{HybridReplic_ReplicatID_fk}
  \fkline{hybrep}{107}{66}{hybridization}{22}{0}{.43}{HybRepl_HybridizationID_fk}
  \fkline{chipvalue}{229}{102}{replicats}{80}{183}{.56}{ChipAnValu_ReplicatID_fk}
  \fkline{calcvalue}{238}{151}{hybridization}{3}{0}{.43}{CalculValue_HybridizationID_fk}
  \fkline[optional]{rawvalue}{235}{127}{hybridization}{0}{60}{.6}{RawValue_HybridizationID_fk}
  \fkline{chipvalue}{106}{157}{spot}{109}{0}{.69}{ChipAnValu_SpotID_fk}
  \fkline{rawvalue}{134}{208}{spot}{4}{0}{.56}{RawValue_SpotID_fk}
  \fkline{calcvalue}{232}{155}{spot}{197}{0}{.76}{CalculValue_SpotID_fk}
  \fkline{diffvalue}{28}{144}{spot}{200}{52}{.72}{DiffAnaVal_SpotID_fk}
  \fkline{rawvalue}{52}{208}{maxvalue}{105}{0}{.49}{RawValue_MaxRawID_fk}
  \fkline{calcvalue}{0}{155}{maxvalue}{135}{0}{.5}{CalculValue_MaxCalculID_fk}
  \fkline{diffvalue}{0}{49}{maxvalue}{171}{0}{.46}{DiffAnaVal_MaxDiffID_fk}
  \fkline{chipvalue}{0}{26}{maxvalue}{209}{14}{.44}{ChipAnaVal_MaxChipID_fk}
  \fkline[weak]{spot}{0}{61}{control}{238}{98}{.7}{Spot_ControlID_fk}
  \fkline[weak]{spottedseq}{79}{0}{control}{79}{105}{.5}{SpottedSeq_ControlID_fk}
  \fkline{spot}{30}{144}{spottedseq}{227}{0}{.55}{Spot_SpottedSeqID_fk}
  \fkline{geoplatform}{98}{0}{spot}{127}{144}{.5}{GeoCatPlatf_SpotID_fk}
  \fkline{spot}{200}{97}{arraytype}{0}{165}{.33}{Spot_ArrayTypeID_fk}
  \fkline{geoplatform}{184}{0}{arraytype}{0}{210}{.25}{GeoCatPlatf_ArrayTypID_fk}
  \fkline{geoplatform}{36}{104}{spottedseq}{239}{146}{.38}{GeoCatPlatf_SpotSeqID_fk}
  \fkline{spotgene}{44}{0}{spottedseq}{218}{157}{.5}{SpotGene_SpottedSeqID_fk}
  \fkline{spotgene}{95}{0}{annotgene}{119}{78}{.5}{SpotGene_GeneID_fk}
  \fkline{annotspot}{50}{0}{spottedseq}{80}{157}{.5}{AnnotSpot_SpottedSeqID_fk}
  \fkline{spottedprimer}{61}{0}{spottedseq}{156}{157}{.48}{SpottedPrimer_SpottedSeqID_fk}
  \fkline{arraybatch}{28}{0}{arraytype}{47}{377}{.5}{ArrayBatch_ArrayTypeID_fk}
  \fkline{arraybatch}{121}{0}{operator}{3}{66}{.43}{ArrayBatch_OperatorID_fk}
  \fkline{array}{0}{3}{arraybatch}{228}{127}{.3}{Array_ArrayBatchID_fk}
  \fkline{hybridization}{122}{377}{array}{117}{0}{.5}{Hybridization_ArrayID_fk}
  \fkline[optional]{orgeco}{0}{50}{arraytype}{234}{360}{.13}{OrganEco_ArrayTypeID_fk}
  \fkline{hybridization}{174}{0}{operator}{118}{66}{.55}{Hybridization_OperatorID_fk}
  \fkline{hyblabel}{81}{0}{hybridization}{246}{241}{.3}{HybridLabelExt_HybridID_fk}
  \fkline{hyblabel}{109}{0}{experiment}{41}{208}{.7}{HybridLabelExt_experID_fk}
  \fkline[optional]{hyblabel}{142}{0}{project}{95}{183}{.72}{HybridLabelExt_pojectID_fk}
  \fkline{hyblabel}{193}{118}{extractpool}{0}{12}{.3}{HybLabelExt_ExtPoolID_fk}
  \fkline{hyblabel}{241}{78}{labelext}{0}{124}{.35}{HybLabelExt_LabelExtID_fk}
  \fkline{orgeco}{173}{19}{ecotype}{0}{26}{.64}{OrganEco_EcotypeID_fk}
  \fkline{orgeco}{173}{53}{organism}{89}{0}{.8}{OrganEco_OrganismID_fk}
  \fkline{extractpool}{68}{0}{project}{120}{183}{.48}{ExtractPool_pojectID_fk}
  \fkline{extractpool}{56}{0}{experiment}{188}{208}{.83}{ExtractPool_experID_fk}
  \fkline{extractpool}{246}{12}{extract}{16}{312}{.4}{ExtractPool_Extract_fk}
  \fkline{labelext}{0}{139}{extractpool}{246}{143}{.25}{LabelExtract_ExtractPoolID_fk}
  \fkline{ip}{0}{251}{extractpool}{215}{0}{.2}{IP_ExtractPoolID_fk}
  \fkline{labelext}{84}{0}{project}{152}{183}{.81}{LabelledExt_pojectID_fk}
  \fkline{labelext}{0}{70}{experiment}{207}{208}{.45}{LabelledExt_experID_fk}
  \fkline{labelext}{0}{87}{operator}{157}{66}{.44}{LabellExt_OperatorID_fk}
  \fkline{labelext}{193}{0}{labelprot}{0}{240}{.5}{LabelExtract_LabelProtoID_fk}
  \fkline{labelprot}{0}{205}{protocol}{166}{91}{.26}{LabelledProtocol_ProtocolID_fk}
  \fkline[optional]{extract}{0}{189}{protocol}{208}{38}{.14}{Extract_ProtocolID_fk}
  \fkline{experiment}{234}{201}{protocol}{0}{20}{.73}{Experiment_ProtocolID_fk}
  \fkline{ip}{0}{38}{experiment}{234}{130}{.14}{IP_ExperimentID_fk}
  \fkline{extract}{0}{94}{experiment}{234}{86}{.7}{Extract_experimentID_fk}
  \fkline{ip}{92}{0}{ipexp}{171}{79}{.5}{IP_IPExperID_fk}
  \fkline{sampleextract}{72}{79}{experiment}{234}{62}{.2}{SampleExt_experID_fk}
  \fkline{sample}{0}{152}{experiment}{234}{76}{.43}{Sample_experimentID_fk}
  \fkline{sampletreated}{0}{171}{experiment}{234}{45}{.76}{Sample_Treated_experimentID_fk}
  \fkline{extract}{0}{69}{project}{176}{183}{.75}{Extract_pojectID_fk}
  \fkline{ip}{0}{8}{project}{202}{183}{.46}{IP_ProjectID_fk}
  \fkline{sample}{0}{77}{project}{222}{140}{.73}{Sample_pojectID_fk}
  \fkline{sampleextract}{0}{7}{project}{222}{153}{.58}{SampleExt_projectID_fk}
  \fkline{sampletreated}{0}{74}{project}{222}{108}{.83}{Sample_Treated_pojectID_fk}
  \fkline{samplesource}{0}{81}{project}{222}{92}{.33}{SampleSource_pojectID_fk}
  \fkline{samplesource}{0}{118}{experiment}{234}{29}{.34}{SampleSource_experimentID_fk}
  \fkline{sampletreated}{0}{126}{operator}{152}{0}{.52}{SampleTreat_OperatorID_fk}
  \fkline{sampletreated}{173}{183}{sample}{51}{0}{.47}{Sample_Treated_SampleID_fk}
  \fkline{sampletreated}{38}{0}{treatment}{194}{275}{.38}{Sample_Treated_Treatment_fk}
  \fkline{sample}{175}{0}{samplesource}{215}{247}{.45}{Sample_SampleSourceID_fk}
  \fkline{sampleextract}{190}{47}{sample}{0}{112}{.46}{SampleExt_Sample_fk}
  \fkline{sampleextract}{143}{79}{extract}{28}{0}{.5}{SampleExt_Ext_fk}
  \fkline{treatment}{0}{130}{contact}{180}{111}{.5}{Treatment_ContactID_fk}
  \fkline{treatment}{8}{275}{project}{222}{81}{.65}{Treatment_pojectID_fk}
  \fkline{treatment}{28}{275}{experiment}{234}{5}{.25}{Treatment_experimentID_fk}
  \fkline{treatment}{92}{275}{protocol}{137}{0}{.22}{Treatment_ProtocolID_fk}
  \fkline{project}{3}{0}{contact}{109}{131}{.6}{Project_ContactID_fk}
  \fkline{projcoord}{69}{0}{contact}{175}{131}{.5}{ProjectCoord_ContactID_fk}
  \fkline{projcoord}{81}{52}{project}{56}{0}{.5}{ProjectCoord_projectID_fk}
  \fkline{projbiblio}{79}{0}{biblio}{119}{105}{.45}{ProjectBib_PubmedID_fk}
  \fkline{projbiblio}{69}{52}{project}{220}{0}{.5}{ProjectBib_projectID_fk}
  \fkline{operator}{143}{0}{contact}{68}{131}{.61}{Operator_ContactID_fk}
  \fkline{experiment}{78}{0}{project}{61}{183}{.5}{Experiment_projectID_fk}
  \fkline{hybridization}{246}{166}{protocol}{0}{54}{.21}{Hybridization_ProtocolID_fk}
  \fkline{hybridization}{246}{88}{experiment}{0}{145}{.6}{Hybrid_experID_fk}
  \fkline{hybridization}{246}{56}{project}{26}{183}{.59}{Hybrid_pojectID_fk}
  \fkline{scanprot}{280}{215}{protocol}{123}{0}{.5}{ScanAnProto_ProtoID_fk}
  \fkline{hybimage}{80}{156}{hybridization}{50}{0}{.6}{HybImData_HybridizationID_fk}
  \fkline{hybimage}{131}{156}{operator}{21}{0}{.33}{HybImData_OperatID_fk}
  \fkline{hybimage}{202}{156}{experiment}{40}{0}{.69}{HybridImagData_ExperID_fk}
  \fkline{hybimage}{261}{85}{project}{0}{63}{.58}{HybridImageData_ProjectID_fk}
  \end{pgfonlayer}
\end{tikzpicture}
\end{document}
